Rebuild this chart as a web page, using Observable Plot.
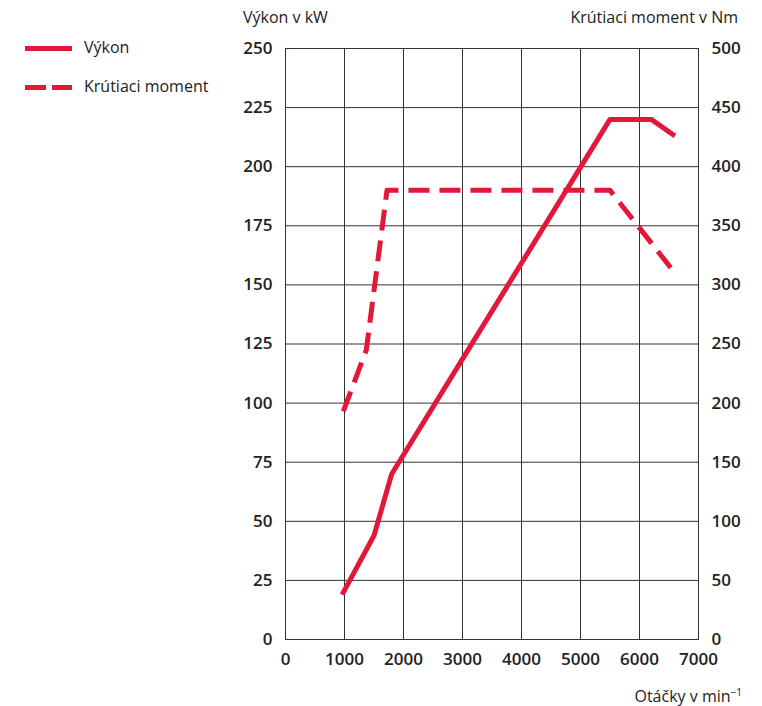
<!DOCTYPE html>
<html>
<head>
<meta charset="utf-8">
<script src="https://cdn.jsdelivr.net/npm/d3@7"></script>
<script src="https://cdn.jsdelivr.net/npm/@observablehq/plot@0.6"></script>
<style>
  html, body { margin: 0; padding: 0; background: #fff; }
  #wrap { position: relative; width: 762px; height: 706px; font-family: "Open Sans", sans-serif; color: #222; }
  #wrap svg { position: absolute; left: 0; top: 0; }
  .t { position: absolute; font-size: 16px; line-height: 18px; white-space: nowrap; color: #222; }
  .leg { position: absolute; left: 25px; width: 47px; height: 0; border-top: 5px solid #e3173a; }
  .legd { position: absolute; left: 25px; width: 47px; height: 5px;
    background: linear-gradient(to right, #e3173a 0 21px, transparent 21px 27px, #e3173a 27px 47px); }
</style>
</head>
<body>
<div id="wrap"></div>
<script>
const rpmTicks = [0, 1000, 2000, 3000, 4000, 5000, 6000, 7000];
const kwTicks = [0, 25, 50, 75, 100, 125, 150, 175, 200, 225, 250];
const rpmPower = [960, 1500, 1800, 5500, 6200, 6600];
const powerKW = [19, 44, 70, 220, 220, 213];
const rpmTorque = [980, 1370, 1720, 5500, 6600];
const torqueNm = [193, 245, 380, 380, 310];

const powerData = rpmPower.map((r, i) => ({rpm: r, v: powerKW[i]}));
const torqueData = rpmTorque.map((r, i) => ({rpm: r, v: torqueNm[i] / 2}));
const red = "#e3173a";

const chart = Plot.plot({
  width: 762,
  height: 706,
  marginLeft: 285,
  marginRight: 64,
  marginTop: 48,
  marginBottom: 67,
  style: {fontFamily: "Open Sans, sans-serif", fontSize: "17px", fontWeight: 600, color: "#222", background: "transparent"},
  x: {domain: [0, 7000]},
  y: {domain: [0, 250]},
  marks: [
    Plot.gridX(rpmTicks, {stroke: "#333", strokeOpacity: 1, strokeWidth: 1}),
    Plot.gridY(kwTicks, {stroke: "#333", strokeOpacity: 1, strokeWidth: 1}),
    Plot.frame({stroke: "#333", strokeWidth: 1}),
    Plot.axisX(rpmTicks, {tickSize: 0, tickPadding: 13, label: null, tickFormat: d => String(d)}),
    Plot.axisY(kwTicks, {anchor: "left", tickSize: 0, tickPadding: 13, label: null}),
    Plot.axisY(kwTicks, {anchor: "right", tickSize: 0, tickPadding: 13, label: null, tickFormat: d => String(d * 2)}),
    Plot.line(torqueData, {x: "rpm", y: "v", stroke: red, strokeWidth: 5, strokeDasharray: "21,10", strokeLinejoin: "round", strokeLinecap: "butt"}),
    Plot.line(powerData, {x: "rpm", y: "v", stroke: red, strokeWidth: 5, strokeLinejoin: "round", strokeLinecap: "butt"})
  ]
});

const wrap = document.getElementById("wrap");
wrap.appendChild(chart);

function addText(txt, style) {
  const d = document.createElement("div");
  d.className = "t";
  d.innerHTML = txt;
  Object.assign(d.style, style);
  wrap.appendChild(d);
}
addText("Výkon v kW", {left: "243px", top: "8px"});
addText("Krútiaci moment v Nm", {right: "24px", top: "8px"});
addText("Otáčky v min<sup style='font-size:10px;vertical-align:6px'>−1</sup>", {right: "20px", top: "683px"});
addText("Výkon", {left: "84px", top: "38px"});
addText("Krútiaci moment", {left: "84px", top: "77px"});

const l1 = document.createElement("div"); l1.className = "leg"; l1.style.top = "46px"; wrap.appendChild(l1);
const l2 = document.createElement("div"); l2.className = "legd"; l2.style.top = "85px"; wrap.appendChild(l2);
</script>
</body>
</html>
